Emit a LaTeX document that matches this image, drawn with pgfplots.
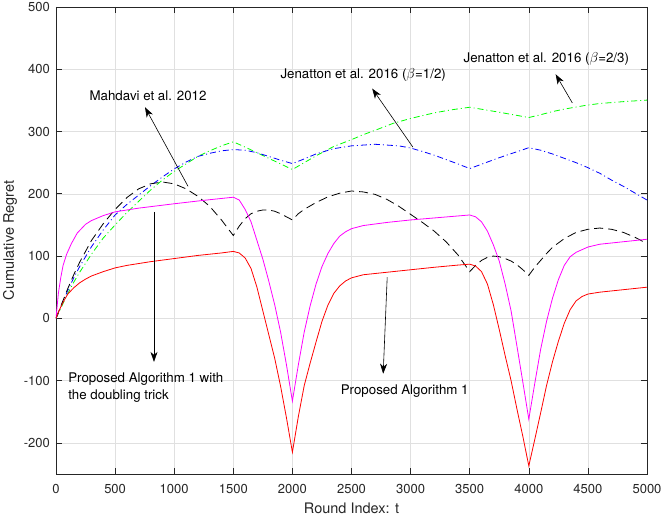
\documentclass[border=0pt]{standalone}
\usepackage{fontspec}
\setmainfont{TeX Gyre Heros}
\usepackage{pgfplots}
\pgfplotsset{compat=1.18}
\usetikzlibrary{arrows.meta}
\definecolor{axgray}{rgb}{0.15,0.15,0.15}
\definecolor{gridgray}{rgb}{0.88,0.88,0.88}
\definecolor{mgreen}{rgb}{0,1,0}
\definecolor{mblue}{rgb}{0,0,1}
\definecolor{mmag}{rgb}{1,0,1}
\definecolor{mred}{rgb}{1,0,0}
\newcommand{\annfont}{\fontsize{13.3bp}{16bp}\selectfont}
\begin{document}
\begin{tikzpicture}
\begin{axis}[
  scale only axis, width=591bp, height=467bp,
  xmin=0, xmax=5000, ymin=-250, ymax=500,
  xtick={0,500,...,5000}, ytick={-200,-100,...,500},
  tick align=inside, tick pos=both, major tick length=6bp,
  grid=major, major grid style={gridgray, line width=0.5bp},
  axis line style={axgray, line width=0.6bp},
  tick style={axgray, line width=0.6bp},
  /pgf/number format/assume math mode=true,
  /pgf/number format/1000 sep={},
  ticklabel style={font=\fontsize{13bp}{15bp}\selectfont, text=axgray},
  xticklabel style={inner sep=0pt, anchor=north, yshift=-10bp},
  yticklabel style={inner sep=0pt, anchor=east, xshift=-6bp},
  xlabel={Round Index: t}, ylabel={Cumulative Regret},
  label style={font=\fontsize{14.5bp}{17bp}\selectfont, text=axgray},
  xlabel style={at={(axis description cs:0.5,-0.0846)}, anchor=base},
  ylabel style={at={(axis description cs:-0.0778,0.5)}, anchor=center},
]
% Jenatton beta=2/3 (green dash-dot)
\addplot[mgreen, line width=0.8bp, dash pattern=on 6bp off 3bp on 1bp off 3bp] coordinates {
(0,0)(50,20)(100,40)(150,58)(200,74)(300,103)(400,129)(500,150)(600,170)(700,188)(800,206)(900,222)(1000,236)(1100,248)(1200,260)(1300,269)(1400,277)(1500,283.5)(1600,275)(1700,266)(1800,257)(1900,248)(2000,239)(2100,250)(2200,261)(2350,276)(2500,287)(2600,295)(2700,302)(2850,313)(3000,321)(3200,330)(3350,335)(3500,339)(3750,331)(4000,322.5)(4100,327)(4200,332)(4300,336)(4480,342)(4600,345)(4800,348)(5000,350.5)};
% Jenatton beta=1/2 (blue dash-dot)
\addplot[mblue, line width=0.8bp, dash pattern=on 6bp off 3bp on 1bp off 3bp] coordinates {
(0,0)(50,23)(100,45)(150,65)(200,83)(300,115)(400,142)(500,166)(600,183)(700,198)(800,213)(900,227)(1000,240)(1100,251)(1200,260)(1300,265)(1400,269)(1500,271)(1600,270)(1700,266)(1800,260)(1900,254)(2000,248.5)(2100,256)(2200,264)(2350,272.5)(2500,277)(2700,279.5)(2900,277)(3000,273.5)(3100,268)(3200,262)(3300,255)(3400,248)(3500,240.5)(3750,258)(4000,274)(4100,270)(4200,264)(4300,257)(4400,250)(4500,242)(4600,233)(4700,222)(4800,212)(4900,201)(5000,190)};
% Mahdavi (black dashed)
\addplot[black, line width=0.8bp, dash pattern=on 9bp off 5bp] coordinates {
(0,0)(50,24)(100,48)(150,70)(200,90)(300,125)(400,152)(500,175)(600,194)(700,208)(800,216)(900,219)(1000,216)(1100,208)(1200,196)(1300,180)(1400,158)(1500,133)(1550,148)(1600,160)(1650,168)(1700,172)(1750,174)(1800,174)(1850,172)(1900,168)(1950,163)(2000,158)(2050,168)(2100,175)(2200,186)(2300,195)(2400,201)(2500,204.5)(2600,203)(2700,199)(2800,191)(2900,180)(3000,167)(3100,154)(3200,140)(3300,123)(3400,102)(3500,75)(3550,85)(3600,93)(3650,98)(3700,100)(3750,99)(3800,96)(3850,92)(3900,86)(3950,78)(4000,69)(4050,82)(4100,93)(4150,104)(4200,114)(4300,128)(4400,138)(4500,143)(4600,145)(4700,143)(4800,138)(4900,130)(5000,120)};
% Proposed with doubling trick (magenta)
\addplot[mmag, line width=0.8bp] coordinates {
(0,0)(20,40)(40,65)(60,85)(90,103)(130,120)(180,137)(250,151)(300,157)(400,165)(500,171)(700,177)(1000,184)(1250,189.5)(1500,194.5)(1550,190)(1600,175)(1650,155)(1700,125)(1750,95)(1800,60)(1850,22)(1900,-22)(1950,-75)(2000,-133)(2050,-75)(2100,-22)(2150,20)(2200,55)(2250,83)(2300,104)(2350,120)(2400,132)(2450,139)(2500,144)(2600,149)(2800,154)(3000,158)(3250,162)(3500,166)(3550,163)(3600,155)(3650,140)(3700,118)(3750,92)(3800,55)(3850,12)(3900,-45)(3950,-103)(4000,-162)(4050,-105)(4100,-50)(4150,-5)(4200,32)(4250,62)(4300,85)(4350,99)(4400,106)(4500,114.5)(4600,119)(4800,123)(5000,127)};
% Proposed Algorithm 1 (red)
\addplot[mred, line width=0.8bp] coordinates {
(0,0)(25,12)(50,22)(75,31)(100,39)(150,49)(200,57)(250,63)(300,68)(400,75)(500,81)(600,85)(800,91)(1000,96)(1200,101)(1400,105)(1500,107.5)(1550,105)(1600,97)(1650,80)(1700,50)(1750,12)(1800,-26)(1850,-64)(1900,-109)(1950,-160)(2000,-215)(2050,-158)(2100,-108)(2150,-72)(2200,-38)(2250,-5)(2300,21)(2350,40)(2400,52)(2450,60)(2500,65)(2600,70)(2800,74)(3000,78)(3200,82)(3400,85.5)(3500,87)(3550,84)(3600,75)(3650,55)(3700,22)(3750,-18)(3800,-60)(3850,-100)(3900,-146)(3950,-190)(4000,-237)(4050,-195)(4100,-152)(4150,-108)(4200,-70)(4250,-37)(4300,-8)(4350,14)(4400,28)(4450,35)(4500,39)(4600,42)(4800,46)(5000,50)};

% annotations
\tikzset{annarrow/.style={-{Stealth[length=10bp,width=7bp,inset=3bp]}, line width=0.6bp, black}}
\draw[annarrow] (axis cs:1117,212) -- (axis cs:753,339);
\node[anchor=base, inner sep=0pt, font=\annfont] at (axis cs:779,350.5) {Mahdavi et al. 2012};
\draw[annarrow] (axis cs:3019,275) -- (axis cs:2675,369);
\node[anchor=base, inner sep=0pt, font=\annfont] at (axis cs:2599,385.9) {Jenatton et al. 2016 ($\beta$=1/2)};
\draw[annarrow] (axis cs:4368,346) -- (axis cs:4227,392);
\node[anchor=base, inner sep=0pt, font=\annfont] at (axis cs:4148,411) {Jenatton et al. 2016 ($\beta$=2/3)};
\draw[annarrow] (axis cs:829,171) -- (axis cs:829,-70);
\node[anchor=base west, inner sep=0pt, font=\annfont] at (axis cs:102,-102.4) {Proposed Algorithm 1 with};
\node[anchor=base west, inner sep=0pt, font=\annfont] at (axis cs:102,-130.8) {the doubling trick};
\draw[annarrow] (axis cs:2802,66) -- (axis cs:2768,-89);
\node[anchor=base, inner sep=0pt, font=\annfont] at (axis cs:2950,-122) {Proposed Algorithm 1};
\end{axis}
\pgfresetboundingbox
\path[use as bounding box] ([shift={(-56bp,-43bp)}]current axis.south west) rectangle ([shift={(17bp,7bp)}]current axis.north east);
\end{tikzpicture}
\end{document}
